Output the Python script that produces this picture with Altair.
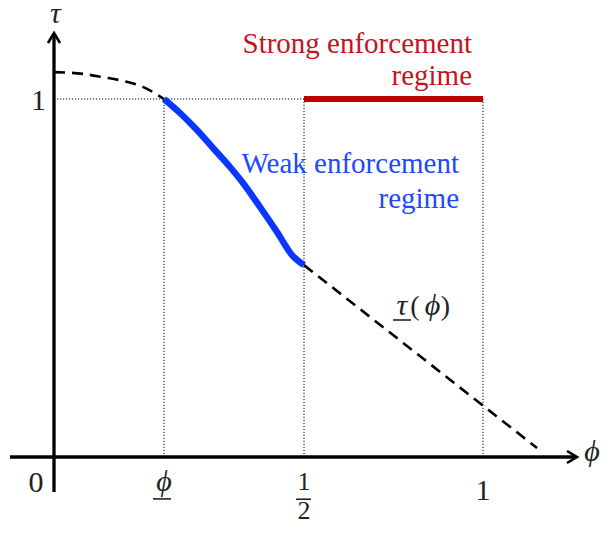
import altair as alt
import pandas as pd

# ---- conceptual positions on the phi axis (tick locations) ----
tick_x = [0.0, 0.2564, 0.5828, 1.0]          # 0, phi_lower, 1/2, 1
X_PHI_LO, X_HALF, X_ONE = tick_x[1], tick_x[2], tick_x[3]

# ---- curves ----
curve_left_x = [0.0, 0.068, 0.114, 0.163, 0.207, 0.2564]
curve_left_y = [1.075, 1.070, 1.061, 1.050, 1.034, 1.0]
weak_x = [0.2564, 0.2937, 0.3333, 0.3706, 0.4103, 0.4406, 0.4802, 0.5198, 0.5548, 0.5828]
weak_y = [1.0, 0.9609, 0.9134, 0.8631, 0.8101, 0.7654, 0.6983, 0.6285, 0.5642, 0.536]
curve_right_x = [0.5828, 1.126]
curve_right_y = [0.536, 0.025]
strong_x = [0.5828, 1.0]
strong_y = [1.0, 1.0]

# axis extents
x_axis_from, x_axis_to = -0.1026, 1.2145
y_axis_from, y_axis_to = -0.098, 1.178

SERIF = "Liberation Serif"

xs = alt.Scale(domain=[-0.10723, 1.27739], nice=False, zero=False)
ys = alt.Scale(domain=[-0.18994, 1.25419], nice=False, zero=False)


def X(f="x"):
    return alt.X(f"{f}:Q", scale=xs, axis=None)


def Y(f="y"):
    return alt.Y(f"{f}:Q", scale=ys, axis=None)


# axes
x_axis = alt.Chart(pd.DataFrame({"x": [x_axis_from], "x2": [x_axis_to], "y": [0.0]})).mark_rule(
    color="black", strokeWidth=3.3).encode(x=X(), x2="x2:Q", y=Y())
y_axis = alt.Chart(pd.DataFrame({"x": [0.0], "y": [y_axis_from], "y2": [y_axis_to]})).mark_rule(
    color="black", strokeWidth=3.3).encode(x=X(), y=Y(), y2="y2:Q")

arrow_right = alt.Chart(pd.DataFrame({"x": [1.2191], "y": [0.0]})).mark_point(
    shape="M-1,-0.6L0,0L-1,0.6", size=400, filled=False, stroke="black", strokeWidth=2.6,
    opacity=1, strokeJoin="miter").encode(x=X(), y=Y())
arrow_up = alt.Chart(pd.DataFrame({"x": [0.0], "y": [1.1844]})).mark_point(
    shape="M-0.6,1L0,0L0.6,1", size=400, filled=False, stroke="black", strokeWidth=2.6,
    opacity=1, strokeJoin="miter").encode(x=X(), y=Y())

# dotted guides
dot_v = alt.Chart(pd.DataFrame({"x": tick_x[1:], "y": [0.0] * 3, "y2": [1.0] * 3})).mark_rule(
    color="black", strokeWidth=1, strokeDash=[1.2, 1.8]).encode(x=X(), y=Y(), y2="y2:Q")
dot_h = alt.Chart(pd.DataFrame({"x": [0.0], "x2": [X_HALF], "y": [1.0]})).mark_rule(
    color="black", strokeWidth=1, strokeDash=[1.2, 1.8]).encode(x=X(), x2="x2:Q", y=Y())

# dashed tau curve
dash_left = alt.Chart(pd.DataFrame({"x": curve_left_x, "y": curve_left_y})).mark_line(
    color="black", strokeWidth=2.6, strokeDash=[11, 7], interpolate="monotone").encode(x=X(), y=Y())
dash_right = alt.Chart(pd.DataFrame({"x": curve_right_x, "y": curve_right_y})).mark_line(
    color="black", strokeWidth=2.6, strokeDash=[11, 7]).encode(x=X(), y=Y())

weak = alt.Chart(pd.DataFrame({"x": weak_x, "y": weak_y})).mark_line(
    color="#0a37ff", strokeWidth=6.5, strokeCap="butt", interpolate="monotone").encode(x=X(), y=Y())
strong = alt.Chart(pd.DataFrame({"x": strong_x, "y": strong_y})).mark_line(
    color="#c00000", strokeWidth=6, strokeCap="butt").encode(x=X(), y=Y())

# small underline / fraction bars
bars = alt.Chart(pd.DataFrame({
    "x": [0.2308, 0.5641, 0.7902],
    "x2": [0.2727, 0.5991, 0.8322],
    "y": [-0.117, -0.118, 0.3827],
})).mark_rule(color="#222222", strokeWidth=1.6).encode(x=X(), x2="x2:Q", y=Y())


def text_layer(rows, size, color="#222222", align="center", style="normal"):
    df = pd.DataFrame(rows, columns=["x", "y", "t"])
    return alt.Chart(df).mark_text(
        font=SERIF, fontSize=size, color=color, align=align, baseline="alphabetic",
        fontStyle=style).encode(x=X(), y=Y(), text="t:N")


tick_labels = text_layer([
    (-0.042, -0.0978, "0"),
    (1.0, -0.120, "1"),
    (-0.036, 0.969, "1"),
], 30)
frac_labels = text_layer([
    (0.5828, -0.092, "1"),
    (0.5828, -0.1732, "2"),
], 26)
math_labels = text_layer([
    (0.2564, -0.095, "ϕ"),
    (0.003, 1.212, "τ"),
    (1.254, -0.01, "ϕ"),
], 30, style="italic")
tau_italic = text_layer([
    (0.811, 0.3966, "τ"),
    (0.8823, 0.3966, "ϕ"),
], 30, style="italic")
tau_parens = text_layer([
    (0.8415, 0.3966, "("),
    (0.9126, 0.3966, ")"),
], 28)
strong_text = text_layer([
    (0.9744, 1.1285, "Strong enforcement"),
    (0.9744, 1.0391, "regime"),
], 29, color="#c3141e", align="right")
weak_text = text_layer([
    (0.9441, 0.7933, "Weak enforcement"),
    (0.9441, 0.6955, "regime"),
], 29, color="#2048ff", align="right")

chart = alt.layer(
    dot_v, dot_h, dash_left, dash_right, weak, strong,
    x_axis, y_axis, arrow_right, arrow_up, bars,
    tick_labels, frac_labels, math_labels, tau_italic, tau_parens, strong_text, weak_text,
).properties(
    width=594, height=517, padding=0,
    autosize=alt.AutoSizeParams(type="none"),
    background="white",
).configure_view(stroke=None)

chart.save("out.html", embed_options={"renderer": "svg", "actions": False})
